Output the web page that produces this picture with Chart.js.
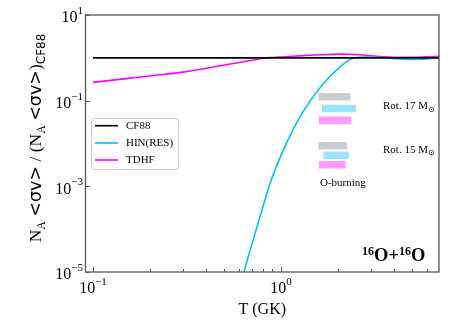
<!DOCTYPE html>
<html><head><meta charset="utf-8">
<script src="https://cdn.jsdelivr.net/npm/chart.js@4.4.1/dist/chart.umd.min.js"></script>
<style>html,body{margin:0;padding:0;background:#fff}#wrap{width:459px;height:324px;position:relative}</style>
</head><body><div id="wrap"><canvas id="c" width="459" height="324"></canvas></div>
<script>
// ---- data ----
const seriesNames = ['CF88', 'HIN(RES)', 'TDHF'];
const seriesColors = ['#000000', '#00bfff', '#ff00ff'];
const cf88T = [0.1, 6.92];
const cf88Ratio = [1, 1];
const tdhfT = [0.1, 0.15, 0.2, 0.3, 0.4, 0.5, 0.6, 0.7, 0.8, 0.9, 1.0, 1.2, 1.5, 1.8, 2.1, 2.5, 3.0, 3.5, 4.0, 5.0, 6.0, 6.92];
const tdhfRatio = [0.267, 0.327, 0.378, 0.463, 0.571, 0.68, 0.78, 0.88, 0.98, 1.02, 1.05, 1.1, 1.16, 1.2, 1.22, 1.2, 1.12, 1.06, 1.03, 1.03, 1.06, 1.08];
const hinT = [0.62, 0.684, 0.773, 0.874, 1.03, 1.26, 1.68, 2.06, 2.42, 2.8, 3.2, 3.6, 4.0, 4.5, 5.0, 5.5, 6.0, 6.92];
const hinRatio = [0.000007, 0.000032, 0.000195, 0.00117, 0.0071, 0.0417, 0.251, 0.617, 0.98, 1.04, 1.03, 1.0, 0.96, 0.93, 0.92, 0.93, 0.95, 0.99];
const xTickValues = [0.1, 1];
const xTickExps = ['\u22121', '0'];
const yTickValues = [10, 0.1, 0.001, 0.00001];
const yTickExps = ['1', '\u22121', '\u22123', '\u22125'];
// O-burning temperature ranges (CF88, HIN(RES), TDHF) for two rotating models
const burnModels = ['Rot. 17 M', 'Rot. 15 M'];
const burnTmin17 = [1.58, 1.65, 1.59];
const burnTmax17 = [2.34, 2.50, 2.36];
const burnLevel17 = [0.123, 0.0654, 0.0348];
const burnTmin15 = [1.58, 1.68, 1.59];
const burnTmax15 = [2.24, 2.30, 2.20];
const burnLevel15 = [0.0089, 0.0053, 0.00321];
const burnColors = ['rgba(0,0,0,0.2)', 'rgba(0,191,255,0.4)', 'rgba(255,0,255,0.4)'];

const SERIF = '"Liberation Serif","DejaVu Serif",serif';
const SANS = '"DejaVu Sans",sans-serif';

function pts(xs, ys) { return xs.map((v, i) => ({x: v, y: ys[i]})); }

const datasets = [];
[[burnTmin17, burnTmax17, burnLevel17], [burnTmin15, burnTmax15, burnLevel15]].forEach(([mn, mx, lv]) => {
  for (let i = 0; i < 3; i++) {
    datasets.push({data: [{x: mn[i], y: lv[i]}, {x: mx[i], y: lv[i]}], borderColor: burnColors[i],
      borderWidth: 7.5, borderCapStyle: 'butt', pointRadius: 0, tension: 0});
  }
});
datasets.push({label: seriesNames[0], data: pts(cf88T, cf88Ratio), borderColor: seriesColors[0], borderWidth: 1.6, pointRadius: 0, tension: 0});
datasets.push({label: seriesNames[1], data: pts(hinT, hinRatio), borderColor: seriesColors[1], borderWidth: 1.6, pointRadius: 0, cubicInterpolationMode: 'monotone'});
datasets.push({label: seriesNames[2], data: pts(tdhfT, tdhfRatio), borderColor: seriesColors[2], borderWidth: 1.6, pointRadius: 0, cubicInterpolationMode: 'monotone'});

function powLabel(ctx, exp, x, y, align) {
  ctx.font = '16px ' + SERIF; const w1 = ctx.measureText('10').width;
  ctx.font = '11px ' + SERIF; const w2 = ctx.measureText(exp).width;
  const tot = w1 + w2;
  const x0 = align === 'right' ? x - tot : x - tot / 2;
  ctx.textAlign = 'left'; ctx.textBaseline = 'middle';
  ctx.font = '16px ' + SERIF; ctx.fillText('10', x0, y);
  ctx.font = '11px ' + SERIF; ctx.fillText(exp, x0 + w1, y - 7);
}

function drawSegs(ctx, segs, x, y) {
  let cx = x;
  segs.forEach(s => { ctx.font = s[1]; ctx.fillText(s[0], cx, y + s[2]); cx += ctx.measureText(s[0]).width; });
  return cx - x;
}
function segsWidth(ctx, segs) {
  let w = 0; segs.forEach(s => { ctx.font = s[1]; w += ctx.measureText(s[0]).width; }); return w;
}

const deco = {
  id: 'deco',
  afterDraw(chart) {
    const {ctx, chartArea: a, scales: {x, y}} = chart;
    ctx.save();
    ctx.fillStyle = '#000';
    ctx.strokeStyle = '#555'; ctx.lineWidth = 1.3;
    ctx.strokeRect(a.left, a.top, a.right - a.left, a.bottom - a.top);
    ctx.lineWidth = 1; ctx.strokeStyle = '#555';
    [0.01, 0.1, 1, 10].forEach(d => {
      for (let m = 1; m <= 9; m++) {
        const v = m * d;
        if (v < x.min || v > x.max) continue;
        const px = Math.round(x.getPixelForValue(v)) + 0.5;
        const len = m === 1 ? 5 : 3;
        ctx.beginPath(); ctx.moveTo(px, a.bottom); ctx.lineTo(px, a.bottom - len); ctx.stroke();
      }
    });
    yTickValues.forEach(v => {
      const py = Math.round(y.getPixelForValue(v)) + 0.5;
      ctx.beginPath(); ctx.moveTo(a.left, py); ctx.lineTo(a.left + 4, py); ctx.stroke();
    });
    ctx.fillStyle = '#000';
    xTickValues.forEach((v, i) => powLabel(ctx, xTickExps[i], x.getPixelForValue(v), a.bottom + 17, 'center'));
    yTickValues.forEach((v, i) => powLabel(ctx, yTickExps[i], a.left - 2.5, y.getPixelForValue(v) + 3, 'right'));
    ctx.font = '16px ' + SERIF; ctx.textAlign = 'center'; ctx.textBaseline = 'middle';
    ctx.fillText('T (GK)', (a.left + a.right) / 2, 310);
    const F = '17.5px ' + SERIF, FS = '17.5px ' + SANS, SUB = '12px ' + SERIF, SUBS = '12px ' + SANS;
    const segs = [['N', F, 0], ['A', SUB, 4], [' ', F, 0], ['<\u03c3v>', FS, 0], [' / (N', F, 0], ['A', SUB, 4], [' ', F, 0], ['<\u03c3v>', FS, 0], [')', F, 0], ['CF88', SUBS, 4]];
    ctx.save();
    ctx.translate(41, 138); ctx.rotate(-Math.PI / 2);
    ctx.textAlign = 'left'; ctx.textBaseline = 'alphabetic';
    const tw = segsWidth(ctx, segs);
    drawSegs(ctx, segs, -tw / 2, 0);
    ctx.restore();
    const lx = 91, ly = 118, lw = 87, lh = 51;
    ctx.beginPath(); ctx.roundRect(lx + 0.5, ly + 0.5, lw, lh, 3);
    ctx.fillStyle = 'rgba(255,255,255,0.85)'; ctx.fill();
    ctx.strokeStyle = '#cccccc'; ctx.lineWidth = 1; ctx.stroke();
    const rows = [125.7, 143, 160];
    seriesNames.forEach((n, i) => {
      ctx.strokeStyle = seriesColors[i]; ctx.lineWidth = 1.6;
      ctx.beginPath(); ctx.moveTo(95, rows[i]); ctx.lineTo(118, rows[i]); ctx.stroke();
      ctx.fillStyle = '#000'; ctx.font = '11px ' + SERIF; ctx.textAlign = 'left'; ctx.textBaseline = 'middle';
      ctx.fillText(n, 126, rows[i] + 0.5);
    });
    ctx.fillStyle = '#000'; ctx.textBaseline = 'middle'; ctx.textAlign = 'left';
    [[burnModels[0], 106.5], [burnModels[1], 150]].forEach(([t, yy]) => {
      ctx.font = '11px ' + SERIF; ctx.fillText(t, 383, yy);
      const w = ctx.measureText(t).width;
      ctx.font = '8px ' + SANS; ctx.fillText('\u2299', 383 + w, yy + 3);
    });
    ctx.font = '11px ' + SERIF; ctx.fillText('O-burning', 320, 183);
    ctx.textBaseline = 'alphabetic';
    const B = 'bold 18.5px ' + SERIF, BS = 'bold 12px ' + SERIF;
    drawSegs(ctx, [['16', BS, -6], ['O+', B, 0], ['16', BS, -6], ['O', B, 0]], 362, 260.5);
    ctx.restore();
  }
};

new Chart(document.getElementById('c'), {
  type: 'line',
  data: {datasets},
  options: {
    responsive: false, animation: false, devicePixelRatio: 1,
    layout: {padding: {left: 0, right: 20, top: 15, bottom: 52}},
    plugins: {legend: {display: false}, tooltip: {enabled: false}},
    scales: {
      x: {type: 'logarithmic', min: 0.0912, max: 6.92, grid: {display: false}, border: {display: false},
        ticks: {display: false}, afterFit(s) { s.height = 0; }},
      y: {type: 'logarithmic', min: 0.00001, max: 10, grid: {display: false}, border: {display: false},
        ticks: {display: false}, afterFit(s) { s.width = 85.5; }}
    }
  },
  plugins: [deco]
});
</script></body></html>
